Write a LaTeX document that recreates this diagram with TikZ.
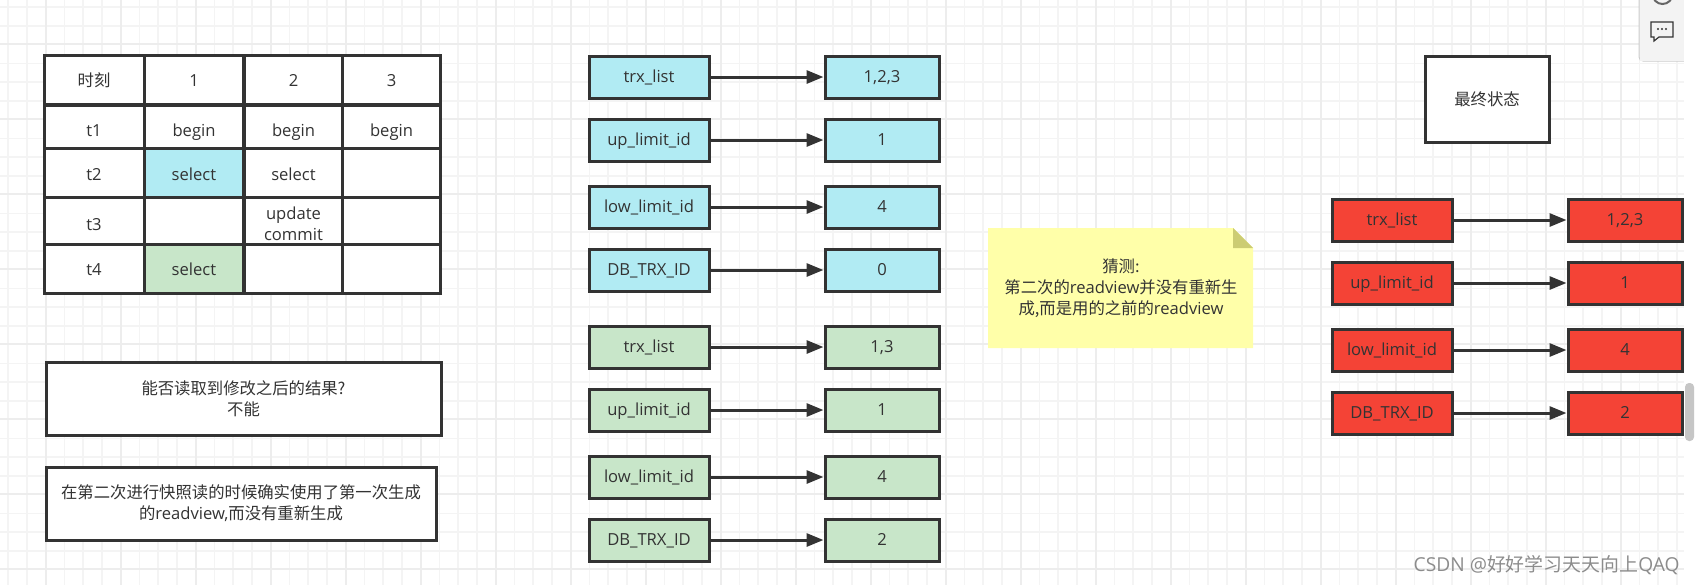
\documentclass[tikz,border=0pt]{standalone}
\usepackage{fontspec}
\setmainfont{Open Sans}
\newfontfamily\cjk{Noto Sans CJK SC}[Scale=0.985,BoldFont={Noto Sans CJK SC}]
\usetikzlibrary{arrows.meta,positioning}
\definecolor{InkDark}{HTML}{333333}
\definecolor{GridMinor}{HTML}{F4F4F4}
\definecolor{GridMajor}{HTML}{EDEDED}
\definecolor{FillBlue}{HTML}{B1EBF3}
\definecolor{FillGreen}{HTML}{C8E6C9}
\definecolor{FillRed}{HTML}{F44336}
\definecolor{NoteBack}{HTML}{FFFFA9}
\definecolor{NoteFold}{HTML}{CCCC73}
\definecolor{PanelBack}{HTML}{F3F3F3}
\tikzset{>={Triangle[length=8.5pt,width=6.5pt]},every node/.style={font=\fontsize{8.3}{10.5}\selectfont,text=InkDark},
 box/.style={draw=InkDark,line width=1.5pt,fill=white,align=center,inner sep=0pt},
 cell/.style={box,minimum width=49.5pt,text depth=2pt},
 field/.style={box,minimum width=60pt,minimum height=21pt,text height=7.5pt,text depth=2pt},
 value/.style={box,minimum width=57pt,minimum height=21pt,text height=7.5pt,text depth=2pt},
 link/.style={draw=InkDark,line width=1.5pt,->}}
\begin{document}
\begin{tikzpicture}[x=.5pt,y=-.5pt]
\useasboundingbox (0,0) rectangle (1695,585);
% grid
\foreach \x in {8,26.75,...,1684}\draw[GridMinor,line width=.75pt] (\x,0)--(\x,585);
\foreach \y in {7,25.75,...,585}\draw[GridMinor,line width=.75pt] (0,\y)--(1684,\y);
\foreach \x in {45.5,120.5,...,1684}\draw[GridMajor,line width=1pt] (\x,0)--(\x,585);
\foreach \y in {44,119,...,585}\draw[GridMajor,line width=1pt] (0,\y)--(1684,\y);
% table
\foreach \y/\h/\th/\tc/\n/\col/\a/\b/\c/\d in {80/49/8.6/8.6/r0/white/{\cjk 时刻}/1/2/3,
 126.5/43/12/12/r1/white/t1/begin/begin/begin,172.5/49/9.5/9.5/r2/FillBlue/t2/select/select/,
 220.5/47/11.5/21.5/r3/white/t3//update\\commit/,269/49/8/8/r4/FillGreen/t4/select//}
 {\node[cell,minimum width=50pt,minimum height=\h*.5pt,text height=\th pt] (\n a) at (94,\y){\a};
  \node[cell,minimum height=\h*.5pt,text height=\th pt,fill=\col] (\n b) at (194,\y){\b};
  \node[cell,minimum height=\h*.5pt,text height=\tc pt] (\n c) at (293.5,\y){\c};
  \node[cell,minimum width=49pt,minimum height=\h*.5pt,text height=\th pt] (\n d) at (391.5,\y){\d};}
% notes on the left
\node[box,minimum width=197.5pt,minimum height=36.5pt] (answer) at (243.5,398.5)
 {\cjk 能否读取到修改之后的结果?\\\cjk 不能};
\node[box,minimum width=195pt,minimum height=36.5pt] (reason) at (241,503.5)
 {\cjk 在第二次进行快照读的时候确实使用了第一次生成\\{\cjk 的}readview,{\cjk 而没有重新生成}};
% field lists
\foreach \col/\y/\n/\lab/\val in {FillBlue/77/a/trx\_list/{1,2,3},FillBlue/140/b/up\_limit\_id/1,
 FillBlue/207/c/low\_limit\_id/4,FillBlue/270/d/DB\_TRX\_ID/0,
 FillGreen/347/e/trx\_list/{1,3},FillGreen/410/f/up\_limit\_id/1,
 FillGreen/477/g/low\_limit\_id/4,FillGreen/540/h/DB\_TRX\_ID/2}
 {\node[field,fill=\col] (key\n) at (649,\y){\lab};
  \node[value,fill=\col] (val\n) at (882,\y){\val};
  \draw[link] (key\n)--(val\n);}
\foreach \y/\n/\lab/\val in {220/i/trx\_list/{1,2,3},283/j/up\_limit\_id/1,
 350/k/low\_limit\_id/4,413/l/DB\_TRX\_ID/2}
 {\node[field,fill=FillRed] (key\n) at (1392,\y){\lab};
  \node[value,fill=FillRed] (val\n) at (1625,\y){\val};
  \draw[link] (key\n)--(val\n);}
\node[box,minimum width=62pt,minimum height=43pt] (final) at (1487,99){\cjk 最终状态};
% sticky note
\fill[NoteBack] (988,228)--(1233,228)--(1253,248)--(1253,348)--(988,348)--cycle;
\fill[NoteFold] (1233,228)--(1253,248)--(1233,248)--cycle;
\node[align=center,inner sep=0pt] (guess) at (1121,288)
 {\cjk 猜测:\\{\cjk 第二次的}readview{\cjk 并没有重新生}\\{\cjk 成,而是用的之前的}readview};
% side panel
\draw[GridMajor!70!gray,fill=PanelBack,rounded corners=2pt,line width=.5pt] (1639,-3)--(1639,61)--(1690,61);
\fill[white] (1684,0) rectangle (1695,585);
\fill[PanelBack] (1640,0) rectangle (1684,60.5);
\draw[gray!80!black,line width=1pt] (1662.5,-6) circle[radius=10];
\draw[InkDark,line width=.6pt] (1651,22)--(1673,22)--(1673,37)--(1659,37)--(1654,41)--(1654,37)--(1651,37)--cycle;
\foreach \x in {1658,1662,1666}\fill[InkDark] (\x,29) circle[radius=1.1];
\fill[gray!45,rounded corners=2pt] (1685,383) rectangle (1694,441);
% watermark
\node[text=gray!90,font=\fontsize{9.6}{11}\selectfont,anchor=east,inner sep=0pt] (mark) at (1680,565)
 {CSDN @{\cjk 好好学习天天向上}QAQ};
\end{tikzpicture}
\end{document}
